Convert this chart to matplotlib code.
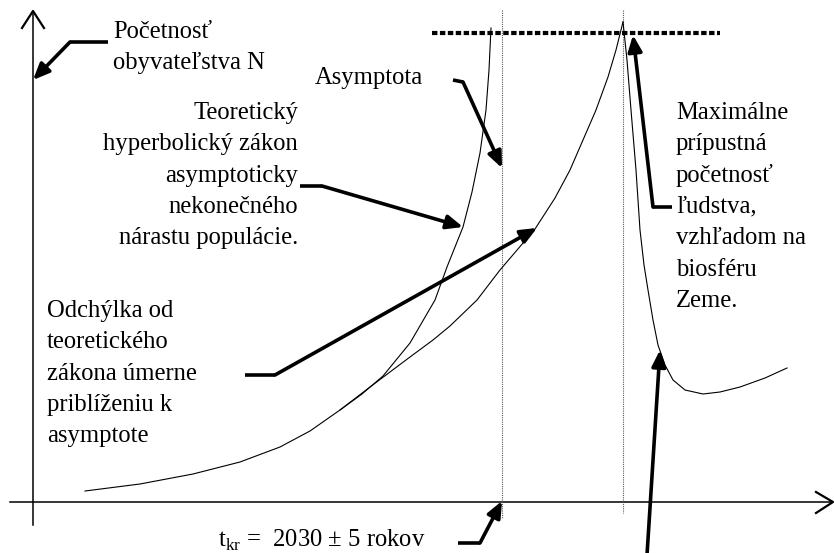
import matplotlib.pyplot as plt

plt.rcParams['font.family'] = ['Liberation Serif', 'DejaVu Serif']
plt.rcParams['mathtext.fontset'] = 'custom'
plt.rcParams['mathtext.rm'] = 'Liberation Serif'

# canvas is laid out in pixel units (origin top-left)
W, H = 835, 553

# population curve (observed / deviating from the theoretical law)
real_x = [85, 140, 193, 240, 280, 310, 340, 370, 410, 433, 450, 477, 500, 535,
          555, 570, 583, 596, 608, 616, 623]
real_y = [491, 484, 474, 462, 447, 431, 410, 387, 357, 340, 326, 300, 270, 229,
          198, 170, 140, 110, 77, 50, 22]
# collapse after the maximum
fall_x = [623, 627, 631, 636, 640, 644, 648, 653, 658, 665, 673, 685, 703, 720,
          740, 765, 787]
fall_y = [22, 60, 110, 170, 230, 265, 290, 320, 345, 365, 380, 390, 394, 392,
          387, 378, 368]
# theoretical hyperbolic law
hyp_x = [340, 362, 383, 410, 435, 447, 463, 472, 480, 486, 489, 491]
hyp_y = [410, 394, 376, 343, 300, 267, 227, 192, 153, 110, 70, 28]

t_crit = 502       # asymptote
t_max = 623        # maximum
n_max = 33         # max. permissible population
n_max_span = [432, 720]

# labels: (lines, x, first line y, alignment)
labels = [
    (['Početnosť', 'obyvateľstva N'], 113, 32, 'left'),
    (['Asymptota'], 315, 78, 'left'),
    (['Teoretický', 'hyperbolický zákon', 'asymptoticky', 'nekonečného',
      'nárastu populácie.'], 298, 113, 'right'),
    (['Odchýlka od', 'teoretického', 'zákona úmerne', 'priblíženiu k',
      'asymptote'], 47, 311, 'left'),
    (['Maximálne', 'prípustná', 'početnosť', 'ľudstva,', 'vzhľadom na',
      'biosféru', 'Zeme.'], 676, 113, 'left'),
]
line_step = 31.3

# leader arrows: polyline, last point is the arrow tip
leaders = [
    [(108, 42), (70, 42), (33, 80)],
    [(453, 80), (463, 82), (502, 168)],
    [(300, 186), (322, 186), (463, 227)],
    [(245, 375), (275, 375), (537, 228)],
    [(458, 543), (480, 543), (502, 501)],
    [(647, 555), (647, 555), (660, 350)],
    [(672, 207), (653, 207), (633, 35)],
]

fig = plt.figure(figsize=(W / 100, H / 100), dpi=100)
ax = fig.add_axes([0, 0, 1, 1])
ax.set_xlim(0, W)
ax.set_ylim(H, 0)
ax.axis('off')

# axes with open arrowheads
ax.plot([33, 33], [12, 525], color='k', lw=1.1)
ax.plot([22, 33, 44], [28, 11, 28], color='k', lw=1.6)
ax.plot([10, 832], [502, 502], color='k', lw=1.1)
ax.plot([816, 833, 816], [492, 502, 513], color='k', lw=1.6)

# dotted guides
ax.plot([t_crit, t_crit], [10, 518], color='0.35', lw=0.8, ls=(0, (1, 1)))
ax.plot([t_max, t_max], [10, 513], color='0.35', lw=0.8, ls=(0, (1, 1)))
ax.plot(n_max_span, [n_max, n_max], color='k', lw=3, ls=(0, (1.3, 0.6)))

# curves
ax.plot(real_x, real_y, color='k', lw=0.8)
ax.plot(fall_x, fall_y, color='k', lw=0.8)
ax.plot(hyp_x, hyp_y, color='k', lw=0.8)

for lines, x, y0, ha in labels:
    for i, s in enumerate(lines):
        ax.text(x, y0 + i * line_step, s, fontsize=17.7, ha=ha, va='center')

ax.text(218, 540, r't$_{\mathrm{kr}}$ =  2030 ± 5 rokov', fontsize=17.7,
        ha='left', va='center')

for pts in leaders:
    xs = [p[0] for p in pts[:-1]]
    ys = [p[1] for p in pts[:-1]]
    ax.plot(xs, ys, color='k', lw=2.6, solid_capstyle='butt')
    ax.annotate('', xy=pts[-1], xytext=pts[-2],
                arrowprops=dict(arrowstyle='-|>,head_length=0.65,head_width=0.28',
                                lw=2.6, color='k', shrinkA=0, shrinkB=0,
                                mutation_scale=15))

fig.savefig('out.png', dpi=100)
